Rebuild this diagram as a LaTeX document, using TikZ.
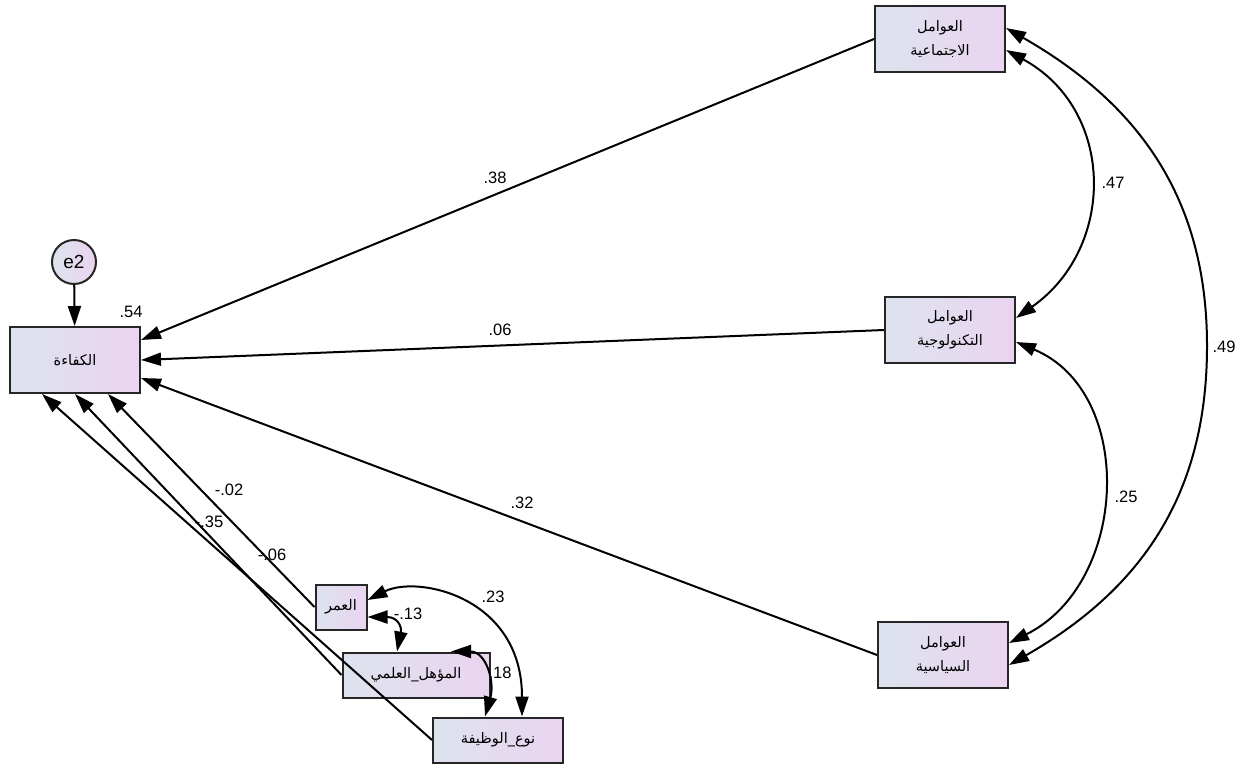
\documentclass[tikz,border=0pt]{standalone}
\usepackage{fontspec}
\setmainfont{Liberation Sans}
\newfontfamily\arabicfont[Script=Arabic]{DejaVu Sans}
\TeXXeTstate=1
\usetikzlibrary{arrows.meta,calc}
\definecolor{boxL}{HTML}{DDE3EE}
\definecolor{boxR}{HTML}{EAD4F0}
\newcommand{\artxt}[1]{{\arabicfont\beginR #1\endR}}
\begin{document}
\begin{tikzpicture}[x=1pt,y=-1pt,
  var/.style={draw=black!85, line width=2pt, left color=boxL, right color=boxR,
    inner sep=0pt, align=center, font=\fontsize{14.5}{24}\selectfont},
  lat/.style={circle, draw=black!85, line width=2pt, left color=boxL, right color=boxR,
    inner sep=0pt, minimum size=44pt, font=\fontsize{19}{19}\selectfont},
  path/.style={line width=2pt, -{Triangle[length=20pt,width=13pt]}},
  cov/.style={line width=2pt, {Triangle[length=20pt,width=13pt]}-{Triangle[length=20pt,width=13pt]}},
  lbl/.style={font=\fontsize{16.5}{16.5}\selectfont, inner sep=0pt}]
\useasboundingbox[fill=white] (0,0) rectangle (1244,768);

% nodes
\node[var, minimum width=130pt, minimum height=66pt] (kaf) at (75,360) {\artxt{الكفاءة}};
\node[lat] (e2) at (74,262) {e2};
\node[var, minimum width=130pt, minimum height=66pt] (soc) at (940,39) {\artxt{العوامل}\\\artxt{الاجتماعية}};
\node[var, minimum width=130pt, minimum height=66pt] (tec) at (950,330) {\artxt{العوامل}\\\artxt{التكنولوجية}};
\node[var, minimum width=130pt, minimum height=66pt] (pol) at (943,655) {\artxt{العوامل}\\\artxt{السياسية}};
\node[var, minimum width=51pt, minimum height=45pt] (umr) at (341,607) {\artxt{العمر}};
\node[var, minimum width=147pt, minimum height=45pt] (muw) at (416,675) {\artxt{المؤهل\_العلمي}};
\node[var, minimum width=130pt, minimum height=45pt] (naw) at (498,740) {\artxt{نوع\_الوظيفة}};
\coordinate (m49) at (1207,346);

% regression paths
\draw[path] (e2) -- (kaf);
\draw[path] (soc.west) -- ($(kaf.east)+(0,-20)$);
\draw[path] (tec.west) -- (kaf.east);
\draw[path] (pol.west) -- ($(kaf.east)+(0,18)$);
\draw[path] (umr.west) -- ($(kaf.south)+(33,0)$);
\draw[path] (muw.west) -- (kaf.south);
\draw[path] (naw.west) -- ($(kaf.south)+(-33,0)$);

% covariances (right)
\draw[cov] ($(soc.east)+(0,11)$) .. controls +(110,60) and +(100,-70) .. ($(tec.east)+(0,-12)$);
\draw[cov] ($(tec.east)+(0,12)$) .. controls +(120,50) and +(120,-60) .. ($(pol.east)+(0,-12)$);
\draw[cov] ($(soc.east)+(0,-11)$) .. controls +(140,80) and +(0,-140) .. (m49) .. controls +(0,140) and +(140,-80) .. ($(pol.east)+(0,10)$);

% covariances (small boxes)
\draw[cov] ($(umr.east)+(0,-7)$) .. controls +(50,-25) and +(0,-120) .. ($(naw.north)+(24,0)$);
\draw[cov] ($(umr.east)+(0,10)$) .. controls +(30,0) and +(5,-25) .. ($(muw.north)+(-19,0)$);
\draw[cov] ($(muw.north)+(35,0)$) .. controls +(35,0) and +(10,-35) .. ($(naw.north)+(-13,0)$);

% labels
\node[lbl] (l54) at (131,312) {.54};
\node[lbl] (l38) at (495,178) {.38};
\node[lbl] (l06) at (500,330) {.06};
\node[lbl] (l32) at (522,503) {.32};
\node[lbl] (l47) at (1113,183) {.47};
\node[lbl] (l25) at (1126,497) {.25};
\node[lbl] (l49) at (1224,347) {.49};
\node[lbl] (l02) at (229,490) {-.02};
\node[lbl] (l35) at (209,522) {-.35};
\node[lbl] (l06b) at (272,555) {-.06};
\node[lbl] (l23) at (493,597) {.23};
\node[lbl] (l13) at (408,614) {-.13};
\node[lbl] (l18) at (500,673) {.18};
\end{tikzpicture}
\end{document}
